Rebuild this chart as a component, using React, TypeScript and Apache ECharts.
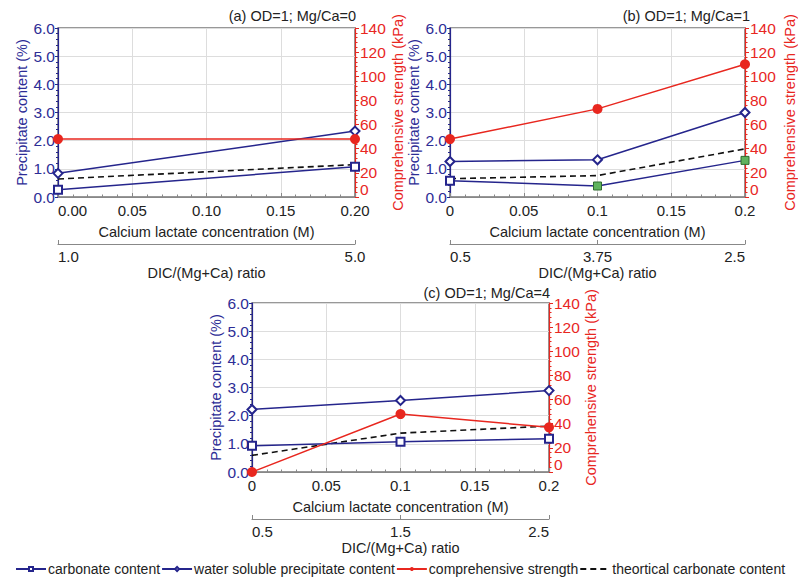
import React, { useEffect, useRef } from "react";
import * as echarts from "echarts";

// ---------- data ----------
const xA = [0, 0.2];
const xBC = [0, 0.1, 0.2];

const aCarbonate = [0.26, 1.07];
const aWater = [0.84, 2.34];
const aStrength = [48, 48];
const aTheo = [0.64, 1.15];

const bCarbonate = [0.58, 0.39, 1.3];
const bWater = [1.26, 1.32, 3.0];
const bStrength = [48, 73, 110];
const bTheo = [0.65, 0.76, 1.71];

const cCarbonate = [0.93, 1.07, 1.18];
const cWater = [2.22, 2.54, 2.89];
const cStrength = [0, 48, 37];
const cTheo = [0.59, 1.38, 1.63];

const dicA = ["1.0", "5.0"];
const dicB = ["0.5", "3.75", "2.5"];
const dicC = ["0.5", "1.5", "2.5"];

const titles = ["(a) OD=1; Mg/Ca=0", "(b) OD=1; Mg/Ca=1", "(c) OD=1; Mg/Ca=4"];
const seriesNames = [
  "carbonate content",
  "water soluble precipitate content",
  "comprehensive strength",
  "theortical carbonate content",
];

// ---------- styles ----------
const FONT = "Liberation Sans, Arial, sans-serif";
const BLUE = "#25258c";
const BLUE_TXT = "#2d2d96";
const RED = "#e8271f";
const GRAY = "#888888";
const TXT = "#222222";

const grids = [
  { left: 58, top: 28, width: 297, height: 169 },
  { left: 450, top: 28, width: 298, height: 169 },
  { left: 252, top: 303, width: 297, height: 169 },
];

function pairs(xs: number[], ys: number[]) {
  return ys.map((y, i) => [xs[i], y]);
}

export default function App() {
  const ref = useRef<HTMLDivElement>(null);
  useEffect(() => {
    document.body.style.margin = "0";
    if (!ref.current) return;
    const chart = echarts.init(ref.current, null, { renderer: "svg" });

    const xAxes: any[] = [];
    const yAxes: any[] = [];
    const series: any[] = [];
    const dics = [dicA, dicB, dicC];
    const minAlign = ["left", "center", "center"];
    const secMax = ["center", "right", "right"];
    const leftGap = [25, 26, 27];
    const rightGap = [35, 37, 30];

    grids.forEach((g, gi) => {
      xAxes.push({
        type: "value",
        gridIndex: gi,
        min: 0,
        max: 0.2,
        interval: 0.05,
        position: "bottom",
        name: "Calcium lactate concentration (M)",
        nameLocation: "middle",
        nameGap: 27,
        nameTextStyle: { fontFamily: FONT, fontSize: 14.5, color: TXT },
        axisLine: { show: true, onZero: false, lineStyle: { color: GRAY, width: 1.2 } },
        axisTick: { show: true, inside: true, length: 4, lineStyle: { color: GRAY } },
        minorTick: { show: true, splitNumber: 5, length: 2.5, lineStyle: { color: GRAY } },
        splitLine: { show: true, lineStyle: { color: "#dddddd" } },
        axisLabel: {
          fontFamily: FONT,
          fontSize: 15,
          color: TXT,
          margin: 6,
          alignMinLabel: minAlign[gi],
          formatter: (v: number) => (gi === 0 ? v.toFixed(2) : String(Math.round(v * 100) / 100)),
        },
      });
      xAxes.push({
        type: "category",
        gridIndex: gi,
        data: dics[gi],
        boundaryGap: false,
        position: "bottom",
        offset: 47,
        name: "DIC/(Mg+Ca) ratio",
        nameLocation: "middle",
        nameGap: 21,
        nameTextStyle: { fontFamily: FONT, fontSize: 14.5, color: TXT },
        axisLine: { show: true, onZero: false, lineStyle: { color: GRAY, width: 1.2 } },
        axisTick: { show: true, inside: true, length: 4, interval: 0, lineStyle: { color: GRAY } },
        splitLine: { show: false },
        axisLabel: {
          fontFamily: FONT,
          fontSize: 15,
          color: TXT,
          margin: 5,
          interval: 0,
          alignMinLabel: "left",
          alignMaxLabel: secMax[gi],
        },
      });
      yAxes.push({
        type: "value",
        gridIndex: gi,
        position: "left",
        min: 0,
        max: 6,
        interval: 1,
        name: "Precipitate content (%)",
        nameLocation: "middle",
        nameGap: leftGap[gi],
        nameTextStyle: { fontFamily: FONT, fontSize: 14.5, color: BLUE_TXT },
        axisLine: { show: true, lineStyle: { color: BLUE, width: 1.2 } },
        axisTick: { show: true, length: 3, lineStyle: { color: BLUE } },
        minorTick: { show: true, splitNumber: 5, length: 2, lineStyle: { color: BLUE } },
        splitLine: { show: true, lineStyle: { color: "#dddddd" } },
        axisLabel: {
          fontFamily: FONT,
          fontSize: 15.5,
          color: BLUE_TXT,
          margin: 3,
          formatter: (v: number) => v.toFixed(1),
        },
      });
      yAxes.push({
        type: "value",
        gridIndex: gi,
        position: "right",
        min: 0,
        max: 140,
        interval: 20,
        name: "Comprehensive strength (kPa)",
        nameLocation: "middle",
        nameGap: rightGap[gi],
        nameTextStyle: { fontFamily: FONT, fontSize: 14.5, color: RED },
        axisLine: { show: true, lineStyle: { color: RED, width: 1.2 } },
        axisTick: { show: true, length: 4, lineStyle: { color: RED } },
        minorTick: { show: true, splitNumber: 5, length: 2.5, lineStyle: { color: RED } },
        splitLine: { show: false },
        axisLabel: {
          fontFamily: FONT,
          fontSize: 15.5,
          color: RED,
          margin: 5,
          verticalAlignMinLabel: "bottom",
        },
      });
    });

    const panelData = [
      { xs: xA, carb: aCarbonate, water: aWater, str: aStrength, theo: aTheo },
      { xs: xBC, carb: bCarbonate, water: bWater, str: bStrength, theo: bTheo },
      { xs: xBC, carb: cCarbonate, water: cWater, str: cStrength, theo: cTheo },
    ];

    panelData.forEach((p, gi) => {
      const xi = gi * 2;
      const yl = gi * 2;
      const yr = gi * 2 + 1;
      let carbData: any[] = pairs(p.xs, p.carb);
      if (gi === 1) {
        carbData = carbData.map((d, i) =>
          i === 0
            ? d
            : {
                value: d,
                symbol: "rect",
                itemStyle: { color: "#5fb35f", borderColor: "#2f6b2f", borderWidth: 1 },
              }
        );
      }
      series.push({
        name: seriesNames[0],
        type: "line",
        xAxisIndex: xi,
        yAxisIndex: yl,
        data: carbData,
        symbol: "emptyRect",
        symbolSize: 8,
        lineStyle: { color: BLUE, width: 1.5 },
        itemStyle: { color: BLUE, borderColor: BLUE, borderWidth: 1 },
        z: 3,
      });
      series.push({
        name: seriesNames[1],
        type: "line",
        xAxisIndex: xi,
        yAxisIndex: yl,
        data: pairs(p.xs, p.water),
        symbol: "emptyDiamond",
        symbolSize: 9,
        lineStyle: { color: BLUE, width: 1.5 },
        itemStyle: { color: BLUE, borderColor: BLUE, borderWidth: 1 },
        z: 3,
      });
      series.push({
        name: seriesNames[2],
        type: "line",
        xAxisIndex: xi,
        yAxisIndex: yr,
        data: pairs(p.xs, p.str),
        symbol: "circle",
        symbolSize: 10,
        lineStyle: { color: RED, width: 1.5 },
        itemStyle: { color: RED },
        z: 4,
      });
      series.push({
        name: seriesNames[3],
        type: "line",
        xAxisIndex: xi,
        yAxisIndex: yl,
        data: pairs(p.xs, p.theo),
        symbol: "none",
        lineStyle: { color: "#111111", width: 1.6, type: [6, 4] },
        itemStyle: { color: "#111111" },
        z: 2,
      });
    });

    const option: any = {
      animation: false,
      backgroundColor: "#ffffff",
      title: [
        { text: titles[0], right: 798 - 356, top: 8 },
        { text: titles[1], right: 798 - 750, top: 8 },
        { text: titles[2], right: 798 - 550, top: 285 },
      ].map((t) => ({
        ...t,
        padding: 0,
        textStyle: { fontFamily: FONT, fontSize: 14.5, fontWeight: "normal", color: TXT },
      })),
      grid: grids.map((g) => ({
        ...g,
        show: true,
        borderColor: "#777777",
        borderWidth: 1.5,
        backgroundColor: "transparent",
        containLabel: false,
      })),
      xAxis: xAxes,
      yAxis: yAxes,
      legend: {
        data: [
          { name: seriesNames[0] },
          { name: seriesNames[1] },
          { name: seriesNames[2] },
          { name: seriesNames[3], itemStyle: { opacity: 0 } },
        ],
        left: 15,
        top: 562,
        padding: 0,
        itemGap: 1,
        itemWidth: 30,
        itemHeight: 5,
        selectedMode: false,
        textStyle: { fontFamily: FONT, fontSize: 14, color: TXT, padding: [0, 0, 0, -3] },
      },
      series,
    };
    chart.setOption(option);
    return () => chart.dispose();
  }, []);
  return <div ref={ref} style={{ width: 798, height: 578 }} />;
}
